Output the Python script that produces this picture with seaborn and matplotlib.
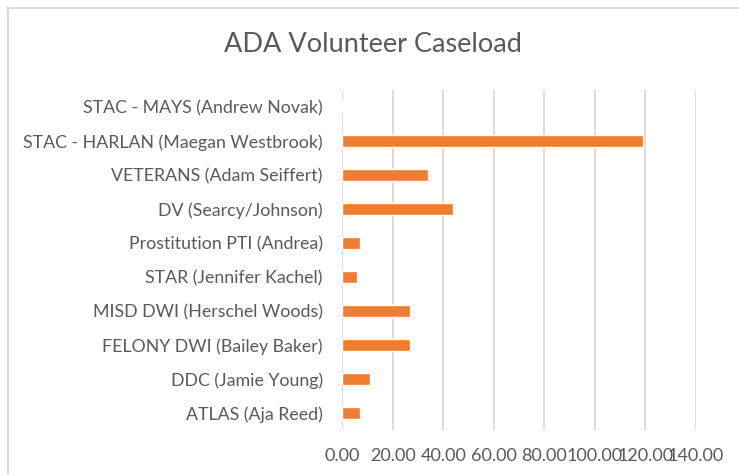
import matplotlib
matplotlib.use("Agg")
import matplotlib.pyplot as plt
from matplotlib.lines import Line2D
import pandas as pd
import seaborn as sns

programs = [
    "STAC - MAYS (Andrew Novak)",
    "STAC - HARLAN (Maegan Westbrook)",
    "VETERANS (Adam Seiffert)",
    "DV (Searcy/Johnson)",
    "Prostitution PTI (Andrea)",
    "STAR (Jennifer Kachel)",
    "MISD DWI (Herschel Woods)",
    "FELONY DWI (Bailey Baker)",
    "DDC (Jamie Young)",
    "ATLAS (Aja Reed)",
]
caseload = [0, 119, 34, 44, 7, 6, 27, 27, 11, 7]
x_ticks = [0, 20, 40, 60, 80, 100, 120, 140]

TEXT = "#595959"
GRID = "#d9d9d9"

sns.set_theme(style="white")
plt.rcParams["font.family"] = ["Lato", "DejaVu Sans"]

df = pd.DataFrame({"program": programs, "caseload": caseload})

fig = plt.figure(figsize=(7.39, 4.75), dpi=100)
ax = fig.add_axes([342.3 / 739, 1 - 430 / 475, (695.7 - 342.3) / 739, 340 / 475])

sns.barplot(data=df, x="caseload", y="program", order=programs,
            color="#ED7D31", saturation=1, width=0.33, ax=ax, zorder=3)

ax.set_xlim(0, 140)
ax.set_xticks(x_ticks)
ax.set_xticklabels([f"{t:.2f}" for t in x_ticks])
ax.xaxis.grid(True, color=GRID, linewidth=1.3, zorder=0)
ax.set_axisbelow(True)
for s in ax.spines.values():
    s.set_visible(False)
ax.set_xlabel("")
ax.set_ylabel("")
ax.tick_params(axis="y", length=0, pad=14, labelsize=12.8, labelcolor=TEXT)
ax.tick_params(axis="x", length=0, pad=13, labelsize=13, labelcolor=TEXT)

fig.text(0.5 * (7 + 739) / 739, 1 - 45 / 475, "ADA Volunteer Caseload",
         ha="center", va="center", fontsize=19.5, color=TEXT)

# chart area border (left and top edges visible)
fig.add_artist(Line2D([7.5 / 739, 7.5 / 739], [0, 1 - 8 / 475],
                      transform=fig.transFigure, color=GRID, linewidth=1.5))
fig.add_artist(Line2D([7 / 739, 1], [1 - 8 / 475, 1 - 8 / 475],
                      transform=fig.transFigure, color=GRID, linewidth=1.5))

fig.savefig("out.png", dpi=100)
